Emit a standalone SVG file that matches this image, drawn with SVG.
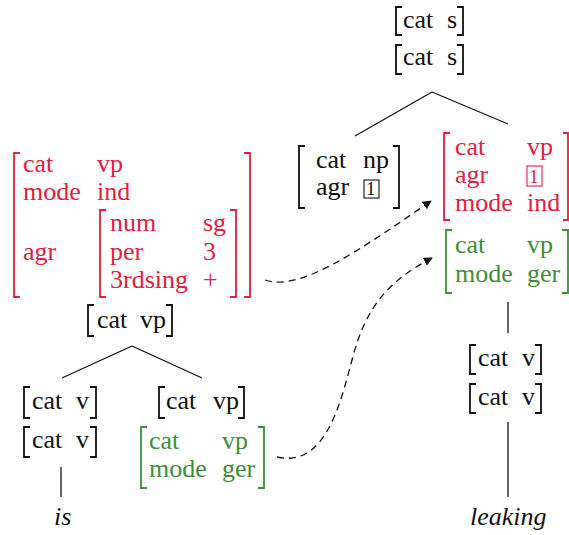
<svg xmlns="http://www.w3.org/2000/svg" width="569" height="535" viewBox="0 0 569 535" font-family="Liberation Serif, DejaVu Serif, serif">
<defs>
<style>
text{font-size:26px;fill:#111}
.r text{fill:#e3203f}
.g text{fill:#3f8d3a}
.it{font-style:italic}
.br{fill:none;stroke:#111;stroke-width:1.8}
.r .br{stroke:#e3203f}
.g .br{stroke:#3f8d3a}
.bx{fill:none;stroke:#111;stroke-width:1.1}
.r .bx{stroke:#e3203f}
.edge{fill:none;stroke:#111;stroke-width:1.3}
.dash{fill:none;stroke:#111;stroke-width:1.3;stroke-dasharray:7 5}
.one{font-size:19px}
</style>
<marker id="ah" viewBox="0 0 10 10" refX="9" refY="5" markerWidth="9" markerHeight="9" markerUnits="userSpaceOnUse" orient="auto">
<path d="M0,0 L10,5 L0,10 z" fill="#111"/>
</marker>
</defs>

<g id="connectors">
<path class="edge" d="M432,92 L355,136"/>
<path class="edge" d="M432,92 L508,124"/>
<path class="edge" d="M132,346 L62,378"/>
<path class="edge" d="M132,346 L202,378"/>
<path class="edge" d="M61,467 L61,497"/>
<path class="edge" d="M508,302 L508,333"/>
<path class="edge" d="M508,422 L508,497"/>
<path class="dash" d="M265,280 C300,292 360,250 431,201" marker-end="url(#ah)"/>
<path class="dash" d="M277,457 C325,468 340,405 352,360 C366,305 390,280 432,258" marker-end="url(#ah)"/>
</g>

<g id="s-top">
<path class="br" d="M402,7 H396 V35 H402"/>
<text x="403" y="28">cat</text><text x="447" y="28">s</text>
<path class="br" d="M457,7 H463 V35 H457"/>
</g>
<g id="s-bottom">
<path class="br" d="M402,45 H396 V74 H402"/>
<text x="403" y="65">cat</text><text x="447" y="65">s</text>
<path class="br" d="M457,45 H463 V74 H457"/>
</g>

<g id="np">
<path class="br" d="M305,146 H299 V208 H305"/>
<text x="316" y="168">cat</text><text x="363" y="168">np</text>
<text x="316" y="195">agr</text>
<rect class="bx" x="364" y="180" width="15" height="18"/>
<text class="one" x="366" y="195">1</text>
<path class="br" d="M393,146 H399 V208 H393"/>
</g>

<g id="vp-red" class="r">
<path class="br" d="M450,133 H444 V220 H450"/>
<text x="455" y="155">cat</text><text x="527" y="155">vp</text>
<text x="455" y="183">agr</text>
<rect class="bx" x="527" y="166" width="15" height="20"/>
<text class="one" x="529" y="183">1</text>
<text x="455" y="211">mode</text><text x="527" y="211">ind</text>
<path class="br" d="M563,133 H568 V220 H563"/>
</g>

<g id="vp-green-right" class="g">
<path class="br" d="M452,230 H446 V293 H452"/>
<text x="455" y="253">cat</text><text x="527" y="253">vp</text>
<text x="455" y="282">mode</text><text x="527" y="282">ger</text>
<path class="br" d="M562,230 H568 V293 H562"/>
</g>

<g id="vp-red-big" class="r">
<path class="br" d="M20,153 H14 V297 H20"/>
<text x="23" y="172">cat</text><text x="97" y="172">vp</text>
<text x="23" y="200">mode</text><text x="97" y="200">ind</text>
<text x="23" y="260">agr</text>
<path class="br" d="M106,210 H100 V297 H106"/>
<text x="110" y="231">num</text><text x="203" y="231">sg</text>
<text x="110" y="260">per</text><text x="203" y="260">3</text>
<text x="110" y="288">3rdsing</text><text x="203" y="288">+</text>
<path class="br" d="M230,210 H236 V297 H230"/>
<path class="br" d="M244,153 H250 V297 H244"/>
</g>

<g id="vp-mid">
<path class="br" d="M94,305 H88 V336 H94"/>
<text x="97" y="328">cat</text><text x="140" y="328">vp</text>
<path class="br" d="M166,305 H172 V336 H166"/>
</g>

<g id="v-left-1">
<path class="br" d="M30,387 H24 V418 H30"/>
<text x="32" y="409">cat</text><text x="76" y="409">v</text>
<path class="br" d="M90,387 H96 V418 H90"/>
</g>
<g id="v-left-2">
<path class="br" d="M30,427 H24 V457 H30"/>
<text x="32" y="448">cat</text><text x="76" y="448">v</text>
<path class="br" d="M90,427 H96 V457 H90"/>
</g>

<g id="vp-right-low">
<path class="br" d="M165,387 H159 V418 H165"/>
<text x="166" y="409">cat</text><text x="213" y="409">vp</text>
<path class="br" d="M238,387 H244 V418 H238"/>
</g>

<g id="vp-green-left" class="g">
<path class="br" d="M147,427 H141 V488 H147"/>
<text x="149" y="449">cat</text><text x="222" y="449">vp</text>
<text x="149" y="477">mode</text><text x="222" y="477">ger</text>
<path class="br" d="M258,427 H264 V488 H258"/>
</g>

<g id="v-right-1">
<path class="br" d="M476,345 H470 V374 H476"/>
<text x="478" y="366">cat</text><text x="522" y="366">v</text>
<path class="br" d="M535,345 H541 V374 H535"/>
</g>
<g id="v-right-2">
<path class="br" d="M476,384 H470 V413 H476"/>
<text x="478" y="405">cat</text><text x="522" y="405">v</text>
<path class="br" d="M535,384 H541 V413 H535"/>
</g>

<g id="word-is"><text class="it" x="54" y="525">is</text></g>
<g id="word-leaking"><text class="it" x="470" y="525">leaking</text></g>
</svg>
